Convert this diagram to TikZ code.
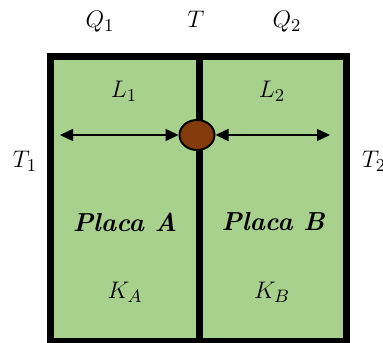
\documentclass[tikz,border=0pt]{standalone}
\usepackage{amsmath,amssymb}
\usepackage{xcolor}
\usepackage{tikz}
\usetikzlibrary{positioning, arrows.meta, shapes.geometric}
\definecolor{plategreen}{HTML}{A9D18E}
\definecolor{jointbrown}{HTML}{843C0C}

\begin{document}
\begin{tikzpicture}[x=0.5pt, y=-0.5pt,
  plate/.style={draw, line width=3.5pt, fill=plategreen, inner sep=0pt},
  joint/.style={ellipse, draw, line width=1pt, fill=jointbrown,
              minimum width=17.5pt, minimum height=15pt, inner sep=0pt},
  arr/.style={{Triangle[length=6.5pt,width=6pt]}-{Triangle[length=6.5pt,width=6pt]},
              line width=0.75pt},
  lbl/.style={font=\fontsize{13}{15}\selectfont, inner sep=0pt},
  platename/.style={font=\fontsize{13}{15}\selectfont\bfseries\itshape, inner sep=0pt}
]
  \useasboundingbox (0,0) rectangle (383,342);

  % Plates
  \node[plate, minimum width=74.25pt, minimum height=142.5pt] (placaA) at (124.75,199) {};
  \node[plate, minimum width=73.75pt, minimum height=142.5pt] (placaB) at (272.75,199) {};

  % Junction
  \node[joint] (junta) at (197,135) {};

  % Free ends of the arrows
  \coordinate (endA) at (60,135);
  \coordinate (endB) at (330,135);

  % Arrows
  \draw[arr] (endA) -- (junta.west);
  \draw[arr] (junta.east) -- (endB);

  % Labels
  \node[lbl] (q1) at (100,22) {$Q_1$};
  \node[lbl] (t)  at (196,19) {$T$};
  \node[lbl] (q2) at (287,22) {$Q_2$};
  \node[lbl] (l1) at (124,91) {$L_1$};
  \node[lbl] (l2) at (272,91) {$L_2$};
  \node[lbl] (t1) at (25,161) {$T_1$};
  \node[lbl] (t2) at (374,161) {$T_2$};
  \node[platename] (nameA) at (125,222) {Placa A};
  \node[platename] (nameB) at (273,222) {Placa B};
  \node[lbl] (ka) at (125,292) {$K_A$};
  \node[lbl] (kb) at (272,292) {$K_B$};

\end{tikzpicture}
\end{document}
